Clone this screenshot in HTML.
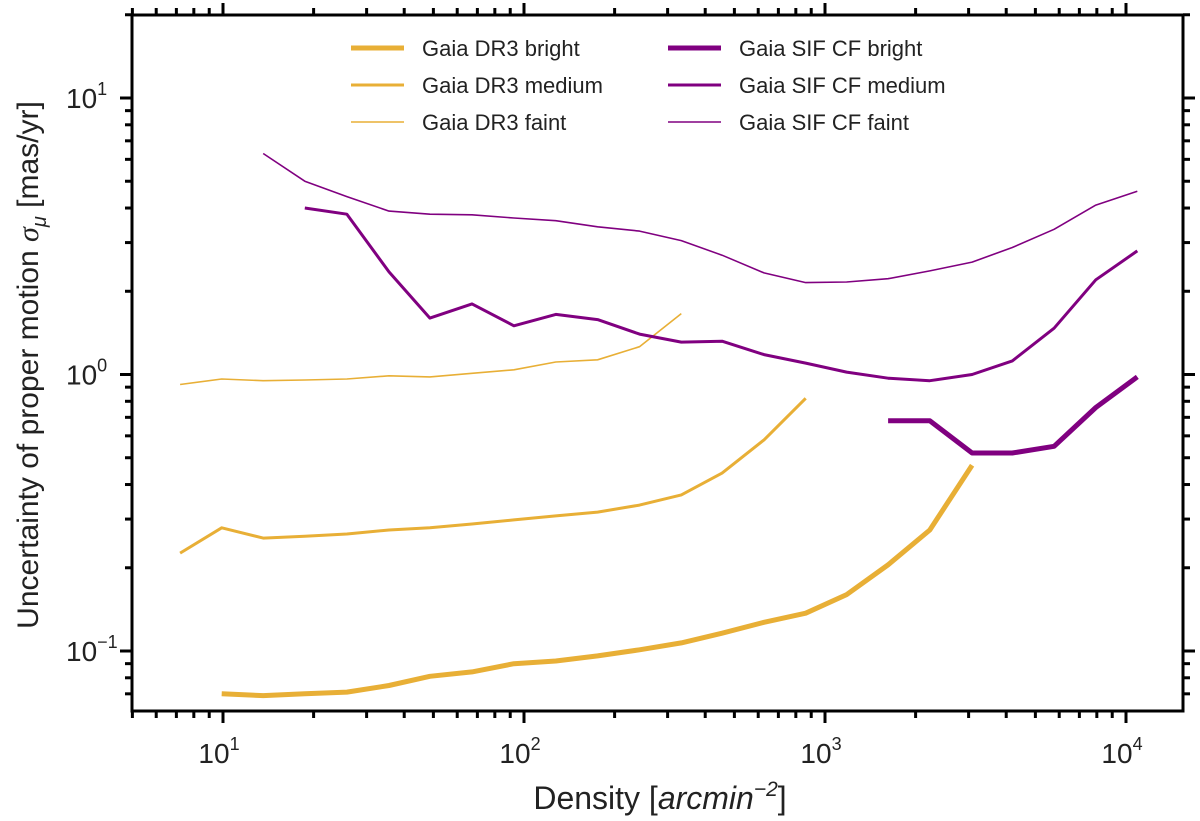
<!DOCTYPE html>
<html><head><meta charset="utf-8"><style>
body{margin:0;background:#fff}
svg{display:block;font-family:"Liberation Sans",sans-serif}
</style></head><body>
<svg id="chart" width="1200" height="821" viewBox="0 0 1200 821">
<g id="marks"></g>
<g id="axes"></g>
<g id="legend"></g>
<text x="660" y="809" text-anchor="middle" font-size="32" fill="#222">Density [<tspan font-style="italic">arcmin</tspan><tspan font-size="21" dy="-13" font-style="italic">−2</tspan><tspan dy="13">]</tspan></text>
<text transform="translate(38,365) rotate(-90)" text-anchor="middle" font-size="30" fill="#222">Uncertainty of proper motion <tspan font-style="italic" font-family="Liberation Serif">σ</tspan><tspan font-size="20" dy="8" font-style="italic">μ</tspan><tspan dy="-8"> [mas/yr]</tspan></text>
</svg>
<script>
const dr3Density=[7.2,9.9,13.6,18.7,25.8,35.6,48.7,67.2,92.6,127.5,175.6,242,333,455,627,863,1180,1620,2230,3080];
const dr3Bright=[null,0.07,0.069,0.07,0.071,0.075,0.081,0.084,0.09,0.092,0.096,0.101,0.107,0.116,0.127,0.137,0.16,0.205,0.274,0.47];
const dr3Medium=[0.226,0.279,0.256,0.26,0.265,0.274,0.279,0.288,0.298,0.308,0.318,0.337,0.367,0.44,0.58,0.82];
const dr3Faint=[0.92,0.963,0.95,0.955,0.963,0.989,0.98,1.01,1.04,1.11,1.13,1.26,1.66];
const sifDensity=[13.6,18.7,25.8,35.6,48.7,67.2,92.6,127.5,175.6,242,333,455,627,863,1180,1620,2230,3080,4190,5770,7940,10900];
const sifBright=[null,null,null,null,null,null,null,null,null,null,null,null,null,null,null,0.68,0.68,0.52,0.52,0.55,0.76,0.98];
const sifMedium=[null,4.0,3.8,2.35,1.6,1.8,1.5,1.65,1.58,1.4,1.31,1.32,1.18,1.1,1.02,0.97,0.95,1.0,1.12,1.47,2.2,2.8];
const sifFaint=[6.3,5.0,4.4,3.9,3.8,3.78,3.68,3.6,3.42,3.3,3.05,2.7,2.33,2.15,2.16,2.22,2.37,2.55,2.88,3.35,4.1,4.6];
const xTickLabels=["1","2","3","4"];
const yTickLabels=["−1","0","1"];

const NS="http://www.w3.org/2000/svg";
const L=132,R=1183,T=15,B=711;
const X=v=>223+(Math.log10(v)-1)*301;
const Y=v=>651-(Math.log10(v)+1)*276.5;
const GOLD="#E8AF36",PURP="#800080";
function mk(tag,attrs,parent){const e=document.createElementNS(NS,tag);for(const k in attrs)e.setAttribute(k,attrs[k]);parent.appendChild(e);return e;}
const marks=document.getElementById('marks'),axes=document.getElementById('axes'),leg=document.getElementById('legend');
function series(xs,ys,color,w,name){
  let d="";let started=false;
  for(let i=0;i<ys.length;i++){if(ys[i]==null)continue;d+=(started?"L":"M")+X(xs[i]).toFixed(1)+","+Y(ys[i]).toFixed(1);started=true;}
  const p=mk('path',{d:d,fill:"none",stroke:color,"stroke-width":w,"stroke-linejoin":"round"},marks);
  
  
}
series(dr3Density,dr3Bright,GOLD,5,'line-dr3-bright');
series(dr3Density,dr3Medium,GOLD,3,'line-dr3-medium');
series(dr3Density,dr3Faint,GOLD,1.6,'line-dr3-faint');
series(sifDensity,sifBright,PURP,5,'line-sif-bright');
series(sifDensity,sifMedium,PURP,3,'line-sif-medium');
series(sifDensity,sifFaint,PURP,1.6,'line-sif-faint');

const fr=mk('rect',{x:L,y:T,width:R-L,height:B-T,fill:"none",stroke:"#000","stroke-width":3},axes);


for(let e=0;e<=4;e++){for(let m=1;m<10;m++){const v=m*Math.pow(10,e);const x=X(v);if(x<L-0.5||x>R+0.5)continue;
  const len=m===1?12:7;
  mk('line',{x1:x,y1:B,x2:x,y2:B+len,stroke:"#000","stroke-width":3},axes);
  mk('line',{x1:x,y1:T,x2:x,y2:T-len,stroke:"#000","stroke-width":3},axes);
}}
xTickLabels.forEach(s=>{const x=X(Math.pow(10,+s));
  const t=mk('text',{x:x-4,y:B+52,"text-anchor":"middle","font-size":28,fill:"#222"},axes);
  
  
  t.textContent="10";const sp=mk('tspan',{"font-size":18,dy:-13},t);sp.textContent=s;});
for(let e=-2;e<=1;e++){for(let m=1;m<10;m++){const v=m*Math.pow(10,e);const y=Y(v);if(y<T-0.5||y>B+0.5)continue;
  const len=m===1?12:7;
  mk('line',{x1:L,y1:y,x2:L-len,y2:y,stroke:"#000","stroke-width":3},axes);
  mk('line',{x1:R,y1:y,x2:R+len,y2:y,stroke:"#000","stroke-width":3},axes);
}}
yTickLabels.forEach(s=>{const y=Y(Math.pow(10,parseInt(s.replace("−","-"))));
  const t=mk('text',{x:66,y:y+10,"text-anchor":"start","font-size":28,fill:"#222"},axes);
  
  
  t.textContent="10";const sp=mk('tspan',{"font-size":18,dy:-13},t);sp.textContent=s;});
const entries=[["Gaia DR3 bright",GOLD,5,351,48],["Gaia DR3 medium",GOLD,3,351,85],["Gaia DR3 faint",GOLD,1.6,351,122],
 ["Gaia SIF CF bright",PURP,5,668,48],["Gaia SIF CF medium",PURP,3,668,85],["Gaia SIF CF faint",PURP,1.6,668,122]];
entries.forEach(en=>{const g=mk('g',{},leg);
  
  
  mk('line',{x1:en[3],y1:en[4],x2:en[3]+53,y2:en[4],stroke:en[1],"stroke-width":en[2]},g);
  const t=mk('text',{x:en[3]+71,y:en[4]+8,"font-size":22,fill:"#222"},g);t.textContent=en[0];});
</script>
</body></html>
